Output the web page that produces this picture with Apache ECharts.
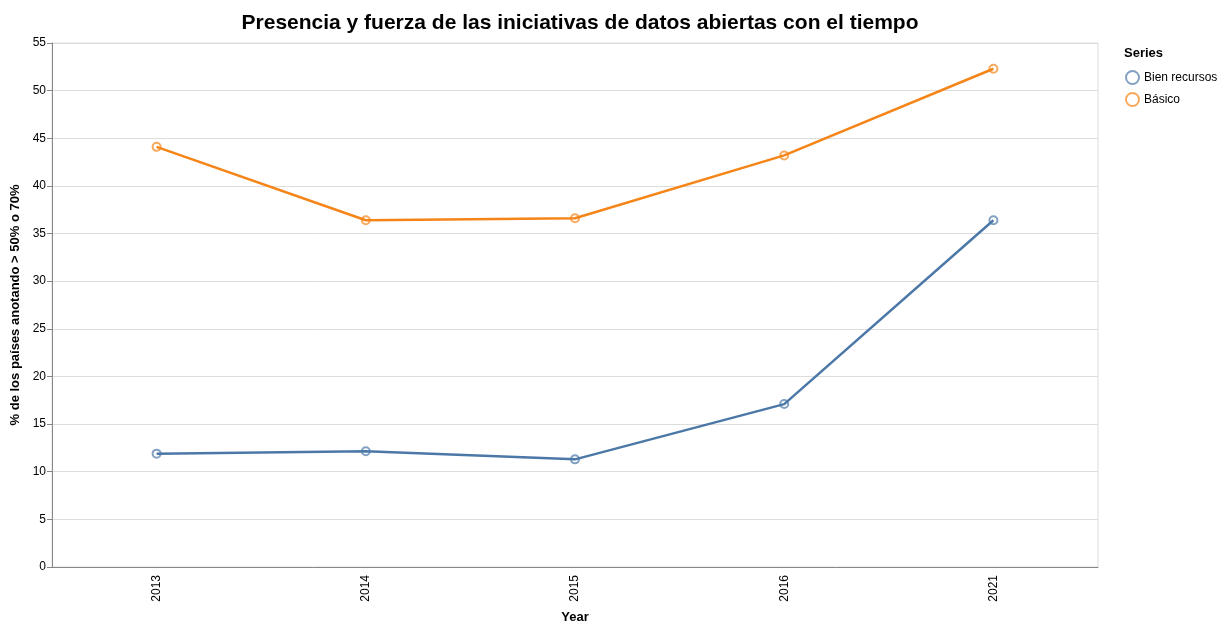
<html>
<head>
    <meta charset="utf-8">
    <title></title>
    <script src="https://cdn.jsdelivr.net/npm/echarts@6/dist/echarts.min.js"></script>
</head>
<body style="margin:0">
    <div id="main" style="width: 1228px; height: 624px"></div>
    <script>
        var years = ['2013', '2014', '2015', '2016', '2021'];
        var bienRecursos = [11.9, 12.15, 11.3, 17.1, 36.4];
        var basico = [44.1, 36.4, 36.6, 43.2, 52.3];
        var seriesNames = ['Bien recursos', 'Básico'];
        var colors = ['#4c78a8', '#f58518'];

        var myChart = echarts.init(document.getElementById('main'));

        function lineSeries(name, data, color) {
            return {
                name: name,
                type: 'line',
                data: data,
                symbol: 'circle',
                symbolSize: 8,
                showSymbol: true,
                lineStyle: { color: color, width: 2.5 },
                itemStyle: { color: 'rgba(0,0,0,0)', borderColor: color, borderWidth: 2, opacity: 0.7 },
                emphasis: { disabled: true },
                z: 2
            };
        }

        var option = {
            animation: false,
            textStyle: { fontFamily: 'Liberation Sans, Arial, sans-serif' },
            title: [{
                text: 'Presencia y fuerza de las iniciativas de datos abiertas con el tiempo',
                left: 575,
                textAlign: 'center',
                top: 8,
                textStyle: { fontSize: 21, fontWeight: 'bold', color: '#000' }
            }, {
                text: 'Series',
                left: 1119,
                top: 42,
                textStyle: { fontSize: 13, fontWeight: 'bold', color: '#000' }
            }],
            legend: {
                orient: 'vertical',
                left: 1120,
                top: 65,
                itemGap: 7,
                itemWidth: 13,
                itemHeight: 13,
                icon: 'circle',
                data: seriesNames.map(function (n, i) {
                    return {
                        name: n,
                        itemStyle: { color: 'rgba(0,0,0,0)', borderColor: colors[i], borderWidth: 2, opacity: 0.7 }
                    };
                }),
                textStyle: { fontSize: 12, color: '#000' }
            },
            grid: {
                left: 52,
                right: 130,
                top: 43,
                bottom: 57,
                outerBoundsMode: 'none',
                show: true,
                borderColor: '#ddd',
                borderWidth: 1
            },
            xAxis: {
                type: 'category',
                data: years,
                boundaryGap: true,
                name: 'Year',
                nameLocation: 'middle',
                nameGap: 44,
                nameTextStyle: { fontSize: 13, fontWeight: 'bold', color: '#000' },
                axisLine: { lineStyle: { color: '#888' } },
                axisTick: { alignWithLabel: true, length: 5, lineStyle: { color: '#888' } },
                axisLabel: { rotate: 90, fontSize: 12, color: '#000', margin: 8 },
                splitLine: { show: false }
            },
            yAxis: {
                type: 'value',
                min: 0,
                max: 55,
                interval: 5,
                name: '% de los países anotando > 50% o 70%',
                nameLocation: 'middle',
                nameGap: 28,
                nameTextStyle: { fontSize: 13, fontWeight: 'bold', color: '#000' },
                axisLine: { show: true, lineStyle: { color: '#888' } },
                axisTick: { show: true, length: 5, lineStyle: { color: '#888' } },
                axisLabel: { fontSize: 12, color: '#000', margin: 6 },
                splitLine: { lineStyle: { color: '#ddd' } }
            },
            series: [
                lineSeries(seriesNames[0], bienRecursos, colors[0]),
                lineSeries(seriesNames[1], basico, colors[1])
            ]
        };
        myChart.setOption(option);
    </script>
</body>
</html>
